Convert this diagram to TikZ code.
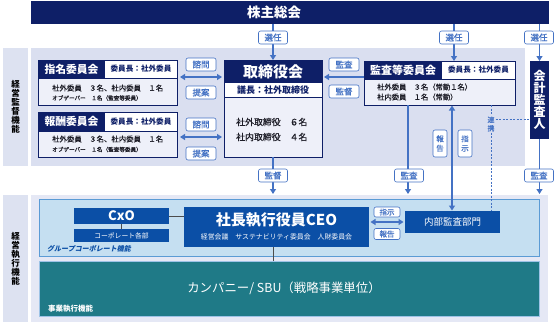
\documentclass[tikz,border=0pt]{standalone}
\usepackage{fontspec}
\setmainfont{Noto Sans CJK JP}
\newfontfamily\medf{Noto Sans CJK JP}[FakeBold=0.7]
\usetikzlibrary{arrows.meta}
\definecolor{navy}{RGB}{14,31,103}
\definecolor{arr}{RGB}{68,114,196}
\definecolor{sregc}{RGB}{218,223,240}
\definecolor{bodyc}{RGB}{238,240,249}
\definecolor{sidec}{RGB}{221,226,241}
\definecolor{grpc}{RGB}{197,223,241}
\definecolor{grpline}{RGB}{91,155,213}
\definecolor{cblue}{RGB}{11,79,166}
\definecolor{tealc}{RGB}{31,122,135}
\definecolor{eregc}{RGB}{229,232,245}
\definecolor{txtc}{RGB}{30,30,40}
\newcommand\fsz[2]{\fontsize{#1pt}{#2pt}\selectfont}
\tikzset{
  rbox/.style={anchor=north west, inner sep=0pt, outer sep=0pt},
  lab/.style={draw=arr, fill=white, text=arr, rounded corners=2pt, line width=0.6pt, inner sep=0pt, font=\fsz{8.5}{9}\medf},
  sarr/.style={draw=arr, line width=1.3pt, -{Triangle[width=6pt,length=5pt]}},
  darr/.style={draw=arr, line width=1.3pt, {Triangle[width=6pt,length=5pt]}-{Triangle[width=6pt,length=5pt]}},
  dsh/.style={draw=arr, line width=0.6pt, dash pattern=on 2pt off 1.5pt},
  gline/.style={draw=black!70, line width=0.8pt},
  btxt/.style={anchor=west, inner sep=0pt, text=txtc},
}
\begin{document}
\begin{tikzpicture}[x=1pt,y=-1pt]
\useasboundingbox (0,0) rectangle (557,324);
\coordinate (x454) at (454,0);
\coordinate (x408) at (408,0);
\coordinate (x452) at (452,0);
% top bar
\node[rbox, fill=navy, minimum width=518pt, minimum height=23pt] (agm) at (31,1) {};
\node[text=white, font=\fsz{13.5}{14}\bfseries, inner sep=0pt] (agmt) at (274,12.5) {株主総会};
% supervisory area
\node[rbox, fill=sidec, minimum width=25pt, minimum height=118pt] (sup) at (3,48) {};
\node[align=center, font=\fsz{8.5}{9}\bfseries, inner sep=0pt] (supt) at (sup.center) {経\\営\\監\\督\\機\\能};
\node[rbox, fill=sregc, minimum width=494pt, minimum height=118pt] (sreg) at (31,48) {};
% board
\node[rbox, fill=bodyc, minimum width=98pt, minimum height=97pt] (tori) at (224,60) {};
\node[rbox, fill=navy, text=white, font=\fsz{15}{16}\bfseries, minimum width=98pt, minimum height=23pt] (torih) at (224,60) {取締役会};
\node[rbox, fill=white, text=navy, font=\fsz{9}{10}\bfseries, minimum width=98pt, minimum height=14pt] (toric) at (224,83) {議長：社外取締役};
\node[btxt, font=\fsz{8.9}{10}\medf] (tori1) at (236,122) {社外取締役　６名};
\node[btxt, font=\fsz{8.9}{10}\medf] (tori2) at (236,137) {社内取締役　４名};
\draw[navy, line width=0.6pt] (toric.south west) -- (toric.south east);
\draw[navy, line width=0.9pt] (tori.north west) rectangle (tori.south east);
% nomination committee
\node[rbox, fill=bodyc, minimum width=139pt, minimum height=45pt] (nom) at (38,60) {};
\node[rbox, fill=navy, text=white, font=\fsz{10.8}{11}\bfseries, minimum width=67pt, minimum height=18pt] (nomh) at (38,60) {指名委員会};
\node[rbox, fill=white, text=navy, font=\fsz{7.6}{8}\bfseries, minimum width=72pt, minimum height=18pt] (nomc) at (105,60) {委員長：社外委員};
\node[btxt, font=\fsz{7.4}{8}\medf] (nom1) at (52,88) {社外委員　３名、社内委員　１名};
\node[btxt, font=\fsz{5.6}{6}\medf] (nom2) at (52,98) {オブザーバー　１名（監査等委員）};
\draw[navy, line width=0.6pt] (nomh.south west) -- (nomc.south east);
\draw[navy, line width=0.9pt] (nom.north west) rectangle (nom.south east);
% remuneration committee
\node[rbox, fill=bodyc, minimum width=139pt, minimum height=45pt] (rem) at (38,112) {};
\node[rbox, fill=navy, text=white, font=\fsz{10.8}{11}\bfseries, minimum width=67pt, minimum height=19pt] (remh) at (38,112) {報酬委員会};
\node[rbox, fill=white, text=navy, font=\fsz{7.6}{8}\bfseries, minimum width=72pt, minimum height=19pt] (remc) at (105,112) {委員長：社外委員};
\node[btxt, font=\fsz{7.4}{8}\medf] (rem1) at (52,139) {社外委員　３名、社内委員　１名};
\node[btxt, font=\fsz{5.6}{6}\medf] (rem2) at (52,149.5) {オブザーバー　１名（監査等委員）};
\draw[navy, line width=0.6pt] (remh.south west) -- (remc.south east);
\draw[navy, line width=0.9pt] (rem.north west) rectangle (rem.south east);
% audit committee
\node[rbox, fill=bodyc, minimum width=151pt, minimum height=44pt] (aud) at (364,61) {};
\node[rbox, fill=navy, text=white, font=\fsz{11}{11}\bfseries, minimum width=78pt, minimum height=18pt] (audh) at (364,61) {監査等委員会};
\node[rbox, fill=white, text=navy, font=\fsz{7.6}{8}\bfseries, minimum width=73pt, minimum height=18pt] (audc) at (442,61) {委員長：社外委員};
\node[btxt, font=\fsz{7.3}{8}\medf] (aud1) at (377,87) {社外委員　３名（常勤１名）};
\node[btxt, font=\fsz{7.3}{8}\medf] (aud2) at (377,97) {社内委員　１名（常勤）};
\draw[navy, line width=0.6pt] (audh.south west) -- (audc.south east);
\draw[navy, line width=0.9pt] (aud.north west) rectangle (aud.south east);
% accounting auditor
\node[rbox, fill=navy, minimum width=19pt, minimum height=78pt] (acc) at (530,61) {};
\node[align=center, text=white, font=\fsz{12}{12}\bfseries, inner sep=0pt] (acct) at (acc.center) {会\\計\\監\\査\\人};
% election arrows
\draw[sarr] (agm.south -| tori.north) -- (tori.north);
\draw[sarr] (agm.south -| x454) -- (aud.north -| x454);
\draw[sarr] (agm.south -| acc.north) -- (acc.north);
\node[lab, minimum width=29pt, minimum height=13pt] (sen1) at (273,37.5) {選任};
\node[lab, minimum width=29pt, minimum height=13pt] (sen2) at (454,37.5) {選任};
\node[lab, minimum width=29pt, minimum height=13pt] (sen3) at (539,37.5) {選任};
% committee arrows
\draw[darr, shorten <=3pt, shorten >=2pt] (nom.east |- 0,77) -- (tori.west |- 0,77);
\draw[darr, shorten <=3pt, shorten >=2pt] (rem.east |- 0,137) -- (tori.west |- 0,137);
\node[lab, minimum width=30pt, minimum height=13pt] (sm1) at (201,64.5) {諮問};
\node[lab, minimum width=30pt, minimum height=13pt] (tk1) at (201,92.5) {提案};
\node[lab, minimum width=30pt, minimum height=13pt] (sm2) at (201,124.5) {諮問};
\node[lab, minimum width=30pt, minimum height=13pt] (tk2) at (201,153.5) {提案};
% audit -> board
\draw[sarr, shorten >=2pt] (aud.west |- 0,77) -- (tori.east |- 0,77);
\node[lab, minimum width=30pt, minimum height=13pt] (ks1) at (344,64.5) {監査};
\node[lab, minimum width=30pt, minimum height=13pt] (kt1) at (344,91.5) {監督};
% collaboration
\node[inner sep=1pt, fill=sregc, text=arr, align=center, font=\fsz{7}{8.5}\medf] (renk) at (491,124) {連\\携};
% lower area
\node[rbox, fill=sidec, minimum width=25pt, minimum height=127pt] (exe) at (3,195) {};
\node[align=center, font=\fsz{8.5}{9}\bfseries, inner sep=0pt] (exet) at (exe.center) {経\\営\\執\\行\\機\\能};
\node[rbox, fill=eregc, minimum width=517pt, minimum height=127pt] (exr) at (31,195) {};
\node[rbox, fill=grpc, draw=grpline, line width=0.6pt, minimum width=500pt, minimum height=57pt] (grp) at (39,199) {};
\node[rbox, fill=tealc, draw=grpline!60, line width=0.4pt, minimum width=500pt, minimum height=55pt] (sbu) at (39,261) {};
\node[text=white, font=\fsz{12.4}{13}, inner sep=0pt] (sbut) at (284,288) {カンパニー/ SBU（戦略事業単位）};
\node[btxt, text=white, font=\fsz{7.5}{8}\bfseries] (sbul) at (48,309) {事業執行機能};
\node[btxt, text=cblue, font=\fsz{7}{8}\bfseries\addfontfeature{FakeSlant=0.2}] (grpl) at (47,249) {グループコーポレート機能};
\node[rbox, fill=cblue, text=white, font=\fsz{13}{13}\bfseries, minimum width=95pt, minimum height=16pt] (cxo) at (74,208) {CxO};
\node[rbox, fill=cblue, text=white, font=\fsz{6.8}{7}, minimum width=95pt, minimum height=13pt] (corp) at (74,229) {コーポレート各部};
\draw[gline] (cxo.south) -- (corp.north);
\node[rbox, fill=cblue, minimum width=185pt, minimum height=40pt] (ceo) at (184,207) {};
\node[text=white, font=\fsz{15}{15}\bfseries, inner sep=0pt] (ceot) at (276.5,220) {社長執行役員CEO};
\node[text=white, font=\fsz{6.9}{7}, inner sep=0pt] (ceos) at (276.5,237) {経営会議　サステナビリティ委員会　人財委員会};
\draw[gline] (cxo.east) -- (cxo.east -| ceo.west);
\draw[gline] (ceo.south -| tori.south) -- (sbu.north -| tori.south);
\node[rbox, fill=cblue, text=white, font=\fsz{9.5}{10}, minimum width=95pt, minimum height=22pt] (iad) at (405,211) {内部監査部門};
\draw[darr, shorten <=1.5pt, shorten >=1.5pt] (ceo.east |- iad.west) -- (iad.west);
\node[lab, font=\fsz{7.5}{8}\medf, minimum width=26pt, minimum height=10pt] (sj2) at (387,212) {指示};
\node[lab, font=\fsz{7.5}{8}\medf, minimum width=26pt, minimum height=11pt] (hk2) at (387,234) {報告};
% dashed collaboration lines
\draw[dsh] (aud.south -| renk) -- (renk.north);
\draw[dsh] (renk.south) -- (iad.north -| renk);
\draw[dsh] (renk.east |- 0,119) -- (acc.west |- 0,119);
% audit/supervision arrows to execution
\draw[sarr, shorten >=1pt] (tori.south) -- (tori.south |- exr.north);
\draw[sarr, shorten >=1pt] (aud.south -| x408) -- (exr.north -| x408);
\draw[sarr, shorten >=1pt] (acc.south) -- (acc.south |- exr.north);
\draw[darr, shorten <=0.5pt, shorten >=0.5pt] (aud.south -| x452) -- (iad.north -| x452);
\node[lab, minimum width=29pt, minimum height=13pt] (kt2) at (273,175.5) {監督};
\node[lab, minimum width=29pt, minimum height=13pt] (ks2) at (409,175.5) {監査};
\node[lab, minimum width=29pt, minimum height=13pt] (ks3) at (539,175.5) {監査};
\node[lab, font=\fsz{7.5}{9.5}\medf, align=center, minimum width=14pt, minimum height=27pt] (hk1) at (440,143.5) {報\\告};
\node[lab, font=\fsz{7.5}{9.5}\medf, align=center, minimum width=14pt, minimum height=27pt] (sj1) at (465,143.5) {指\\示};
\end{tikzpicture}
\end{document}
